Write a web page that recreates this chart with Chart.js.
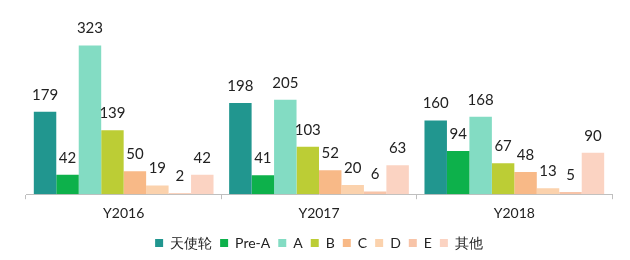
<!DOCTYPE html>
<html>
<head>
<meta charset="utf-8">
<script src="https://cdn.jsdelivr.net/npm/chart.js@4"></script>
<style>
  html, body { margin: 0; padding: 0; background: #fff; }
  #wrap { width: 630px; height: 260px; }
</style>
</head>
<body>
<div id="wrap"><canvas id="bar"></canvas></div>
<script>
var years = ["Y2016", "Y2017", "Y2018"];
var rounds = ["天使轮", "Pre-A", "A", "B", "C", "D", "E", "其他"];
var angelVals = [179, 198, 160];
var preAVals = [42, 41, 94];
var aVals = [323, 205, 168];
var bVals = [139, 103, 67];
var cVals = [50, 52, 48];
var dVals = [19, 20, 13];
var eVals = [2, 6, 5];
var otherVals = [42, 63, 90];
var colors = ["#21968f", "#0db14b", "#83dcc3", "#bccd35", "#f8b987", "#fbd2ad", "#f8c4a8", "#fbd3c2"];

var seriesVals = [angelVals, preAVals, aVals, bVals, cVals, dVals, eVals, otherVals];

// draw the value above each bar
var valueLabels = {
  id: "valueLabels",
  afterDatasetsDraw: function (chart) {
    var ctx = chart.ctx;
    ctx.save();
    ctx.font = "15px Lato, 'Open Sans', sans-serif";
    ctx.fillStyle = "#222";
    ctx.textAlign = "center";
    ctx.textBaseline = "middle";
    chart.data.datasets.forEach(function (ds, i) {
      chart.getDatasetMeta(i).data.forEach(function (bar, j) {
        ctx.fillText(ds.data[j], bar.x, bar.y - 17);
      });
    });
    ctx.restore();
  }
};

var ctx = document.getElementById("bar").getContext("2d");
new Chart(ctx, {
  type: "bar",
  data: {
    labels: years,
    datasets: rounds.map(function (r, i) {
      return {
        label: r,
        data: seriesVals[i],
        backgroundColor: colors[i],
        barPercentage: 1,
        categoryPercentage: 0.92
      };
    })
  },
  options: {
    responsive: true,
    maintainAspectRatio: false,
    animation: false,
    layout: { padding: { left: 26, right: 18, top: 10, bottom: 0 } },
    plugins: {
      tooltip: { enabled: false },
      legend: {
        position: "bottom",
        labels: {
          boxWidth: 8,
          boxHeight: 8,
          padding: 8,
          color: "#222",
          font: { size: 14, family: "Lato, 'Open Sans', sans-serif" }
        }
      }
    },
    scales: {
      x: {
        grid: {
          offset: true,
          drawOnChartArea: false,
          drawTicks: true,
          tickLength: 5,
          color: "#bfbfbf"
        },
        border: { color: "#bfbfbf" },
        ticks: {
          color: "#222",
          padding: 6,
          font: { size: 14, family: "Lato, 'Open Sans', sans-serif" }
        }
      },
      y: {
        display: false,
        min: 0,
        max: 400
      }
    }
  },
  plugins: [valueLabels]
});
</script>
</body>
</html>
